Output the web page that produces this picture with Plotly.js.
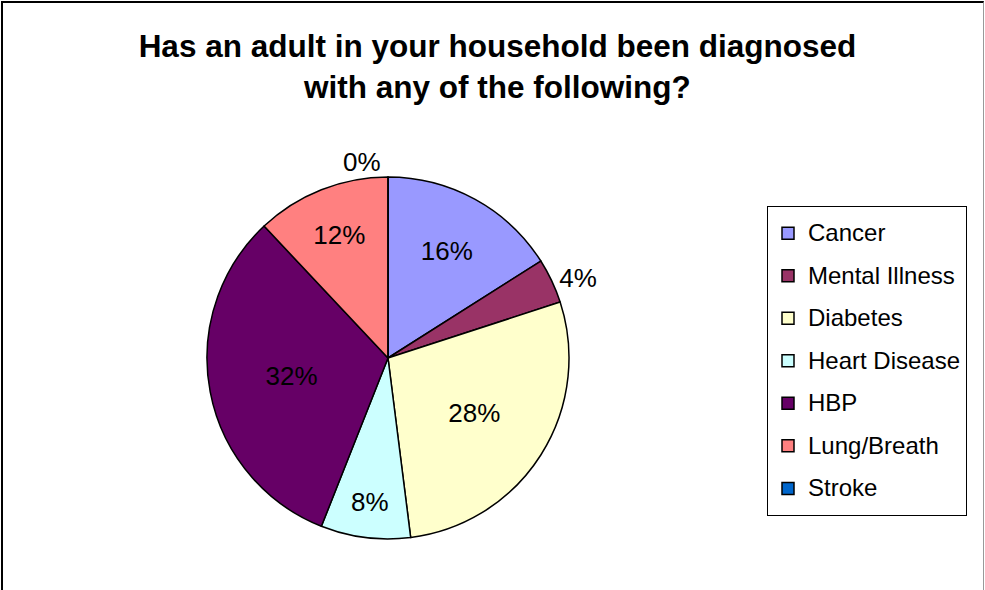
<!DOCTYPE html>
<html>
<head>
<meta charset="utf-8">
<script src="https://cdn.plot.ly/plotly-3.0.1.min.js"></script>
<style>
  html, body { margin: 0; padding: 0; background: #fff; }
  #wrap { position: relative; width: 985px; height: 590px; }
  #chart { width: 985px; height: 590px; }
  #frame { position: absolute; left: 1px; top: 1px; width: 980px; height: 600px;
           border-left: 2px solid #000; border-top: 2px solid #000; border-right: 1px solid #999;
           pointer-events: none; }
</style>
</head>
<body>
<div id="wrap">
  <div id="chart"></div>
  <div id="frame"></div>
</div>
<script>
const categories = ['Cancer', 'Mental Illness', 'Diabetes', 'Heart Disease', 'HBP', 'Lung/Breath', 'Stroke'];
const percents = [16, 4, 28, 8, 32, 12, 0];
const colors = ['#9999FF', '#993366', '#FFFFCC', '#CCFFFF', '#660066', '#FF8080', '#0066CC'];
const textPositions = ['inside', 'outside', 'inside', 'inside', 'inside', 'inside', 'outside'];
const titleText = 'Has an adult in your household been diagnosed<br>with any of the following?';

const FONT = 'Liberation Sans, Arial, sans-serif';
const legendLabels = categories.map(c => '<br><br><span style="font-size:24px">' + c + '</span><br>');

const trace = {
  type: 'pie',
  labels: legendLabels,
  values: percents,
  sort: false,
  direction: 'clockwise',
  rotation: 0,
  marker: { colors: colors, line: { color: '#000', width: 1.5 } },
  textinfo: 'percent',
  textposition: textPositions,
  insidetextorientation: 'horizontal',
  textfont: { family: FONT, size: 26, color: '#000' },
  insidetextfont: { family: FONT, size: 26, color: '#000' },
  outsidetextfont: { family: FONT, size: 26, color: '#000' },
  hoverinfo: 'none',
  domain: { x: [207/985, 569/985], y: [51/590, 413/590] }
};

const layout = {
  width: 985, height: 590,
  margin: { l: 0, r: 0, t: 0, b: 0 },
  paper_bgcolor: '#fff',
  plot_bgcolor: '#fff',
  font: { family: FONT, color: '#000' },
  title: {
    text: titleText,
    font: { family: FONT, size: 31.5, color: '#000', weight: 'bold' },
    x: 0.505, xanchor: 'center', xref: 'paper',
    y: 1 - 57/590, yanchor: 'top', yref: 'container'
  },
  showlegend: true,
  legend: {
    x: 767/985, xanchor: 'left',
    y: 1 - 206/590, yanchor: 'top',
    bgcolor: '#fff', bordercolor: '#000', borderwidth: 1,
    font: { family: FONT, size: 7.6, color: '#000' },
    traceorder: 'normal'
  }
};

Plotly.newPlot('chart', [trace], layout, { displayModeBar: false, staticPlot: true });
</script>
</body>
</html>
